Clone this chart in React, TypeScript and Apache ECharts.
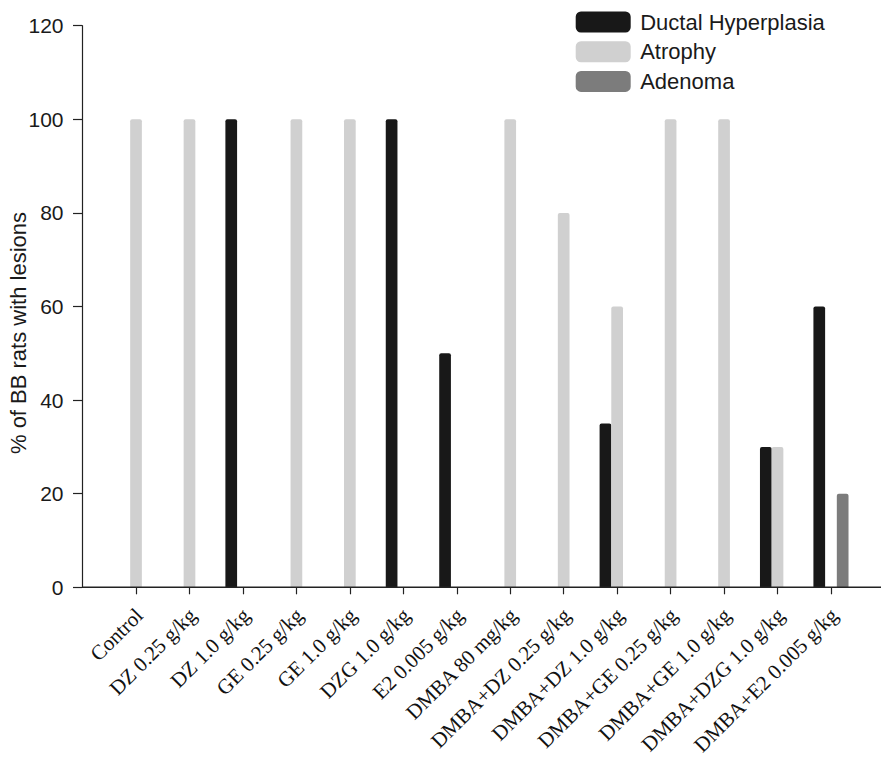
import React, { useEffect, useRef } from "react";
import * as echarts from "echarts";

const categories = [
  "Control",
  "DZ 0.25 g/kg",
  "DZ 1.0 g/kg",
  "GE 0.25 g/kg",
  "GE 1.0 g/kg",
  "DZG 1.0 g/kg",
  "E2 0.005 g/kg",
  "DMBA 80 mg/kg",
  "DMBA+DZ 0.25 g/kg",
  "DMBA+DZ 1.0 g/kg",
  "DMBA+GE 0.25 g/kg",
  "DMBA+GE 1.0 g/kg",
  "DMBA+DZG 1.0 g/kg",
  "DMBA+E2 0.005 g/kg",
];

const ductalHyperplasia = [0, 0, 100, 0, 0, 100, 50, 0, 0, 35, 0, 0, 30, 60];
const atrophy = [100, 100, 0, 100, 100, 0, 0, 100, 80, 60, 100, 100, 30, 0];
const adenoma = [0, 0, 0, 0, 0, 0, 0, 0, 0, 0, 0, 0, 0, 20];

const yTicks = [0, 20, 40, 60, 80, 100, 120];

const seriesNames = ["Ductal Hyperplasia", "Atrophy", "Adenoma"];
const seriesColors = ["#181818", "#d0d0d0", "#7c7c7c"];

const SANS = "'Liberation Sans', Arial, Helvetica, sans-serif";
const SERIF = "'Liberation Serif', 'Times New Roman', serif";

export default function App() {
  const ref = useRef<HTMLDivElement>(null);

  useEffect(() => {
    if (!ref.current) return;
    const chart = echarts.init(ref.current, undefined, { renderer: "svg" });
    const toBars = (arr: number[]) => arr.map((v) => (v === 0 ? "-" : v));
    const datasets = [ductalHyperplasia, atrophy, adenoma];

    chart.setOption({
      animation: false,
      backgroundColor: "#ffffff",
      grid: {
        left: 109.3,
        right: 23.3,
        top: 25.7,
        bottom: 176.7,
        containLabel: false,
        outerBoundsMode: "none",
      },
      legend: {
        data: seriesNames,
        orient: "vertical",
        left: 575.7,
        top: 11,
        padding: 0,
        itemWidth: 55,
        itemHeight: 21,
        itemGap: 7.7,
        icon: "roundRect",
        textStyle: {
          fontFamily: SANS,
          fontSize: 22,
          lineHeight: 21,
          color: "#1a1a1a",
          padding: [0, 0, 0, 4.5],
        },
      },
      xAxis: {
        type: "category",
        data: categories,
        axisLine: { show: false },
        axisTick: {
          show: true,
          alignWithLabel: true,
          length: 7,
          lineStyle: { color: "#222", width: 1.2 },
        },
        axisLabel: {
          rotate: 45,
          interval: 0,
          margin: 13,
          align: "right",
          verticalAlign: "top",
          padding: [0, 6, 0, 0],
          fontFamily: SERIF,
          fontSize: 21,
          color: "#111",
        },
      },
      yAxis: {
        type: "value",
        min: yTicks[0],
        max: yTicks[yTicks.length - 1],
        interval: 20,
        offset: 27.3,
        name: "% of BB rats with lesions",
        nameLocation: "middle",
        nameGap: 53,
        nameMoveOverlap: false,
        nameTextStyle: {
          fontFamily: SANS,
          fontSize: 22,
          lineHeight: 22,
          color: "#1a1a1a",
          padding: [0, 53, 0, 0],
        },
        axisLine: { show: true, lineStyle: { color: "#222", width: 1.2 } },
        axisTick: { show: true, length: 9, lineStyle: { color: "#222", width: 1.2 } },
        axisLabel: {
          margin: 18.5,
          fontFamily: SANS,
          fontSize: 21,
          color: "#1a1a1a",
        },
        splitLine: { show: false },
      },
      graphic: [
        {
          type: "line",
          shape: { x1: 82, y1: 587.3, x2: 881, y2: 587.3 },
          style: { stroke: "#222", lineWidth: 1.4 },
          z: 10,
        },
      ],
      series: seriesNames.map((name, i) => ({
        name,
        type: "bar",
        data: toBars(datasets[i]),
        barWidth: 11.7,
        barGap: "0%",
        itemStyle: { color: seriesColors[i], borderRadius: [2, 2, 0, 0] },
      })),
    });

    return () => chart.dispose();
  }, []);

  return (
    <div
      ref={ref}
      style={{ position: "fixed", left: 0, top: 0, width: 881, height: 764 }}
    />
  );
}
